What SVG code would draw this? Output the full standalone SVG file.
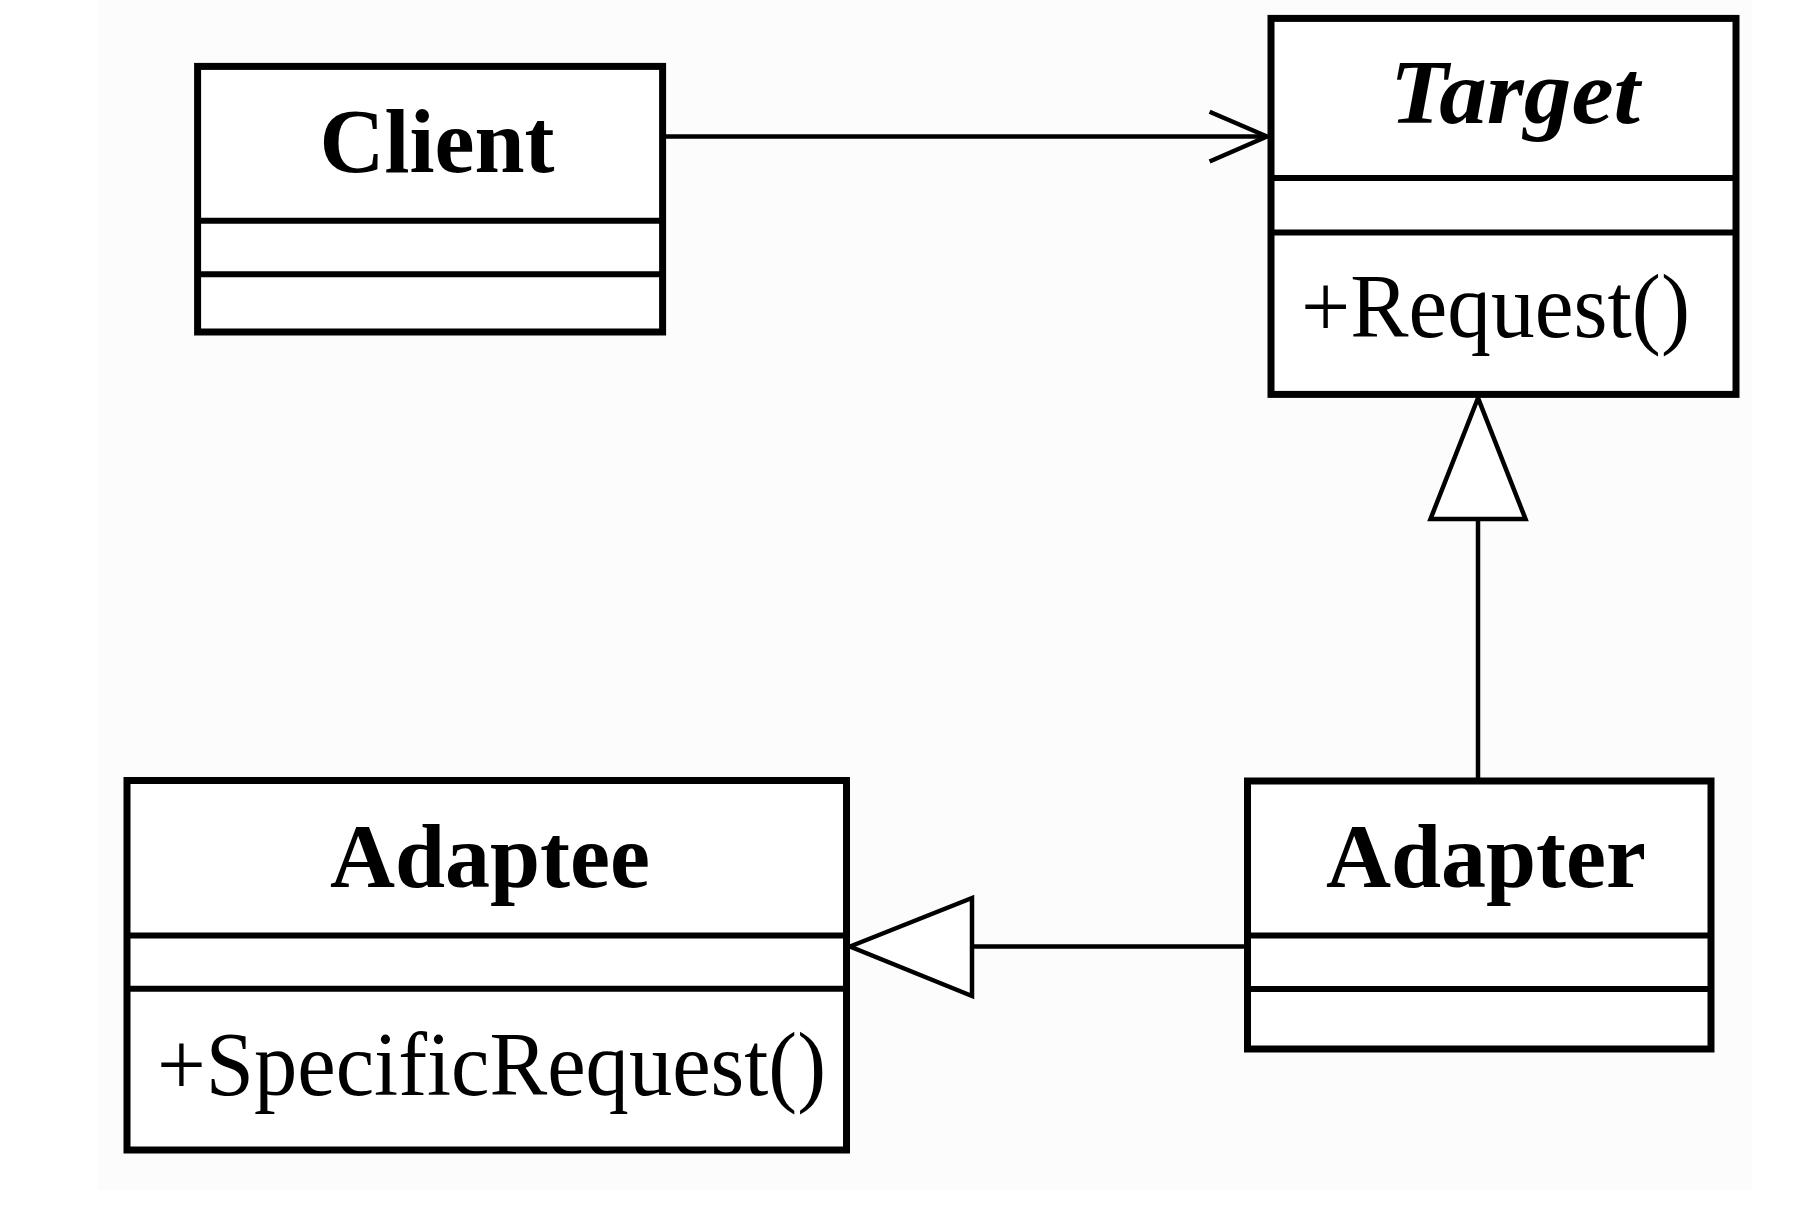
<svg xmlns="http://www.w3.org/2000/svg" width="1812" height="1210" viewBox="0 0 1812 1210">
<style>
.box{fill:#fff;stroke:#000;stroke-width:7}
.div{stroke:#000;stroke-width:6}
.edge{stroke:#000;stroke-width:4.5;fill:none}
.head{stroke:#000;stroke-width:4.5;fill:#fff;stroke-linejoin:miter}
.name{font-family:"Liberation Serif","Times New Roman",serif;font-weight:bold;font-size:90px;fill:#000}
.abs{font-style:italic}
.op{font-family:"Liberation Serif","Times New Roman",serif;font-size:90px;fill:#000}
</style>
<rect x="0" y="0" width="1812" height="1210" fill="#fff"/>
<rect x="98" y="0" width="1654" height="1190" fill="#fcfcfc"/>
<g id="connectors">
  <line class="edge" x1="663" y1="136.5" x2="1267" y2="136.5"/>
  <polyline class="edge" points="1209.6,111.7 1267,136.5 1209.6,161.5"/>
  <line class="edge" x1="1478" y1="778" x2="1478" y2="519"/>
  <polygon class="head" points="1478,398 1430.5,519 1525.5,519"/>
  <line class="edge" x1="1245" y1="946.5" x2="972" y2="946.5"/>
  <polygon class="head" points="850,946.5 972,898 972,996"/>
</g>
<g id="client">
  <rect class="box" x="197.6" y="66.4" width="465" height="265.6"/>
  <line class="div" x1="197.6" y1="220.7" x2="662.6" y2="220.7"/>
  <line class="div" x1="197.6" y1="274.3" x2="662.6" y2="274.3"/>
  <text class="name" x="319.5" y="171.7">Client</text>
</g>
<g id="target">
  <rect class="box" x="1271" y="18.4" width="465" height="376"/>
  <line class="div" x1="1271" y1="178" x2="1736" y2="178"/>
  <line class="div" x1="1271" y1="232.5" x2="1736" y2="232.5"/>
  <text class="name abs" x="1390" y="123" textLength="250" lengthAdjust="spacingAndGlyphs">Target</text>
  <text class="op" x="1301" y="337" textLength="389" lengthAdjust="spacingAndGlyphs">+Request()</text>
</g>
<g id="adaptee">
  <rect class="box" x="127" y="780.5" width="719.5" height="369.5"/>
  <line class="div" x1="127" y1="935.5" x2="846.5" y2="935.5"/>
  <line class="div" x1="127" y1="988.8" x2="846.5" y2="988.8"/>
  <text class="name" x="330" y="886.7">Adaptee</text>
  <text class="op" x="157" y="1095" textLength="669" lengthAdjust="spacingAndGlyphs">+SpecificRequest()</text>
</g>
<g id="adapter">
  <rect class="box" x="1247.5" y="781" width="463.5" height="268"/>
  <line class="div" x1="1247.5" y1="935.6" x2="1711" y2="935.6"/>
  <line class="div" x1="1247.5" y1="989" x2="1711" y2="989"/>
  <text class="name" x="1326" y="886.6">Adapter</text>
</g>
</svg>
